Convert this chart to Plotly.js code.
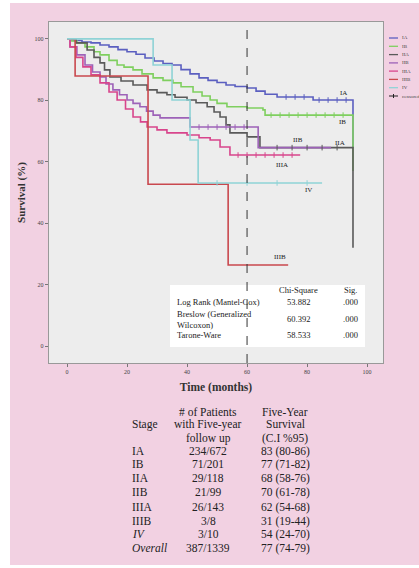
<!DOCTYPE html>
<html>
<head>
<meta charset="utf-8">
<script src="https://cdn.plot.ly/plotly-3.0.1.min.js"></script>
<style>
html,body{margin:0;padding:0;background:#ffffff;width:419px;height:568px;overflow:hidden;}
#chart{position:absolute;left:10px;top:3px;width:409px;height:562px;}
</style>
</head>
<body>
<div id="chart"></div>
<script>
// ---------- Data ----------
const stages = ["IA", "IB", "IIA", "IIB", "IIIA", "IIIB", "IV"];
const stageColors = ["#5b5fc0", "#7fcf5f", "#5a5a5a", "#9d62b8", "#d8458c", "#c9484e", "#8fd3d6"];

const timeIA = [0, 2, 5, 8, 11, 14, 17, 20, 23, 26, 29, 32, 35, 38, 41, 44, 47, 50, 53, 56, 60, 63, 66, 70, 82, 95.3, 95.3];
const survIA = [100, 99.5, 99, 98.7, 98, 97.4, 96.5, 95.8, 95, 93.8, 92.8, 92, 91.5, 90, 88.6, 87.3, 86.5, 85.8, 85, 84.5, 84, 83, 82, 81.1, 80.1, 80.1, 64.5];

const timeIB = [0, 1.5, 3.3, 6, 9, 11, 14, 16.7, 19, 22, 25, 28.7, 32, 35.3, 38, 42, 45, 47.7, 50, 53.3, 60, 65.3, 66, 95.3, 95.3];
const survIB = [100, 99.3, 98.7, 97.4, 95.8, 94.8, 93, 91.5, 90.8, 89.9, 88.6, 87.3, 86.5, 85.7, 84.4, 82.7, 81.4, 80.1, 79, 77.9, 77.5, 76.9, 75.2, 75.2, 57];

const timeIIA = [0, 3, 6.7, 9, 11, 12.5, 14.3, 18, 22, 26.7, 30, 33.3, 36, 40, 43, 46.7, 49, 51, 53, 54.3, 60, 64.3, 95.3, 95.3];
const survIIA = [100, 98.7, 96.4, 94, 92.2, 89.9, 87.6, 86.3, 85, 83.4, 82.5, 81.8, 81, 80.1, 79.2, 77.9, 76.2, 74.6, 72, 69.4, 68.1, 64.6, 64.6, 32];

const timeIIB = [0, 1, 3.3, 6, 8.5, 11, 13, 15.3, 17.5, 20, 22, 24.3, 26.5, 28.7, 31, 41, 63.7, 88];
const survIIB = [100, 97.4, 94.8, 91.5, 89.2, 87.6, 85.3, 83.4, 81.8, 80.1, 79, 77.9, 76.5, 75.2, 74.3, 71.3, 64.6, 64.6];

const timeIIIA = [0, 1, 3, 5.3, 8, 11, 14, 16.7, 19.5, 22, 24.5, 26.7, 30, 33.3, 40, 44, 47.7, 51, 54.3, 77.7];
const survIIIA = [100, 97.4, 94, 90.9, 88.3, 85.7, 82.7, 80.1, 77.2, 74.6, 73, 71.3, 70.4, 69.4, 68.7, 67.8, 67.1, 64.8, 62.2, 62.2];

const timeIIIB = [0, 2.7, 27, 53.7, 73.7];
const survIIIB = [100, 87.9, 52.7, 26.4, 26.4];

const timeIV = [0, 28.7, 35, 41, 43.7, 85];
const survIV = [100, 91.5, 80.1, 67.1, 53.1, 53.1];

// censored observations (time, survival)
const censIAx = [73, 76, 79, 84, 87, 90, 93];
const censIAy = [81.1, 81.1, 81.1, 80.1, 80.1, 80.1, 80.1];
const censIBx = [68, 71, 74, 77, 80, 83, 86, 89, 92];
const censIBy = [75.2, 75.2, 75.2, 75.2, 75.2, 75.2, 75.2, 75.2, 75.2];
const censIIAx = [70, 75, 80, 85, 90];
const censIIAy = [64.6, 64.6, 64.6, 64.6, 64.6];
const censIIBx = [44, 47, 50, 53, 56, 59];
const censIIBy = [71.3, 71.3, 71.3, 71.3, 71.3, 71.3];
const censIIIAx = [57, 60, 63, 66, 69, 72, 75];
const censIIIAy = [62.2, 62.2, 62.2, 62.2, 62.2, 62.2, 62.2];
const censIVx = [50, 60, 70, 80];
const censIVy = [53.1, 53.1, 53.1, 53.1];

const xTicks = [0, 20, 40, 60, 80, 100];
const yTicks = [0, 20, 40, 60, 80, 100];

const testNames = ["Log Rank (Mantel-Cox)", "Breslow (Generalized<br>Wilcoxon)", "Tarone-Ware"];
const chiSquare = ["53.882", "60.392", "58.533"];
const sigValues = [".000", ".000", ".000"];

const tableStages = ["IA", "IB", "IIA", "IIB", "IIIA", "IIIB", "IV", "Overall"];
const followUp = ["234/672", "71/201", "29/118", "21/99", "26/143", "3/8", "3/10", "387/1339"];
const fiveYear = ["83 (80-86)", "77 (71-82)", "68 (58-76)", "70 (61-78)", "62 (54-68)", "31 (19-44)", "54 (24-70)", "77 (74-79)"];

// ---------- Layout helpers (page pixel -> paper) ----------
const PL = 49, PR = 383, PT = 22, PB = 363;
const px = x => (x - PL) / (PR - PL);
const py = y => (PB - y) / (PB - PT);
const SERIF = '"Liberation Serif", "DejaVu Serif", serif';

function note(x, y, text, font, xanchor) {
  return {xref: 'paper', yref: 'paper', x: px(x), y: py(y), text: text, showarrow: false,
    xanchor: xanchor || 'center', yanchor: 'middle', align: xanchor === 'left' ? 'left' : 'center', font: font};
}

const series = [
  [timeIA, survIA, censIAx, censIAy],
  [timeIB, survIB, censIBx, censIBy],
  [timeIIA, survIIA, censIIAx, censIIAy],
  [timeIIB, survIIB, censIIBx, censIIBy],
  [timeIIIA, survIIIA, censIIIAx, censIIIAy],
  [timeIIIB, survIIIB, [], []],
  [timeIV, survIV, censIVx, censIVy]
];

const traces = [];
series.forEach((s, i) => {
  traces.push({
    x: s[0], y: s[1], type: 'scatter', mode: 'lines',
    line: {shape: 'hv', color: stageColors[i], width: 1.6},
    name: stages[i], showlegend: false, hoverinfo: 'skip'
  });
});
series.forEach((s, i) => {
  if (s[2].length) traces.push({
    x: s[2], y: s[3], type: 'scatter', mode: 'markers',
    marker: {symbol: 'line-ns', size: 4, color: stageColors[i], line: {color: stageColors[i], width: 1}},
    showlegend: false, hoverinfo: 'skip'
  });
});

const annotations = [];
const shapes = [];

// curve labels
const lf = {family: SERIF, size: 7, color: '#222'};
const curveLabels = [["IA", 343, 93], ["IB", 342, 122], ["IIB", 298, 140], ["IIA", 340, 143], ["IIIA", 282, 165], ["IV", 308, 190], ["IIIB", 280, 257]];
curveLabels.forEach(l => annotations.push(note(l[1], l[2], l[0], lf)));

// custom legend
const legY = [38, 46.3, 54.6, 62.9, 71.1, 79.4, 87.7, 96];
const legF = {family: SERIF, size: 5, color: '#444'};
stages.forEach((s, i) => {
  shapes.push({type: 'line', xref: 'paper', yref: 'paper', x0: px(389), x1: px(398), y0: py(legY[i]), y1: py(legY[i]),
    line: {color: stageColors[i], width: 1.3}});
  annotations.push(note(400, legY[i], s, legF, 'left'));
});
shapes.push({type: 'line', xref: 'paper', yref: 'paper', x0: px(389), x1: px(398), y0: py(legY[7]), y1: py(legY[7]),
  line: {color: '#222', width: 1}});
shapes.push({type: 'line', xref: 'paper', yref: 'paper', x0: px(393.5), x1: px(393.5), y0: py(legY[7] - 2), y1: py(legY[7] + 2),
  line: {color: '#222', width: 1}});
annotations.push(note(400, legY[7], 'censored', legF, 'left'));

// stats box
shapes.push({type: 'rect', xref: 'paper', yref: 'paper', x0: px(170), x1: px(365), y0: py(347), y1: py(285),
  fillcolor: '#ffffff', line: {width: 0}, layer: 'below'});
// five-year reference line
shapes.push({type: 'line', xref: 'x', yref: 'paper', x0: 60, x1: 60, y0: 0, y1: 1,
  line: {color: '#333', width: 1, dash: 'dash'}, layer: 'above'});

const sf = {family: SERIF, size: 8.5, color: '#222'};
annotations.push(note(298, 290, 'Chi-Square', sf));
annotations.push(note(350, 290, 'Sig.', sf));
const statRowY = [302, 319, 335];
testNames.forEach((t, i) => {
  annotations.push(note(175, statRowY[i], t, sf, 'left'));
  annotations.push(note(298, statRowY[i], chiSquare[i], sf));
  annotations.push(note(350, statRowY[i], sigValues[i], sf));
});

// bottom table
const tf = {family: SERIF, size: 11.5, color: '#222'};
const hdr = [[208, 412, '# of Patients'], [208, 424, 'with Five-year'], [208, 438, 'follow up'],
             [285, 412, 'Five-Year'], [285, 424, 'Survival'], [285, 438, '(C.I %95)']];
hdr.forEach(h => annotations.push(note(h[0], h[1], h[2], tf)));
annotations.push(note(130, 424, 'Stage', tf, 'left'));
const rowY = [451, 464, 478, 492, 507, 521, 534, 548];
tableStages.forEach((s, i) => {
  const it = (s === 'IV' || s === 'Overall');
  annotations.push(note(130, rowY[i], it ? '<i>' + s + '</i>' : s, tf, 'left'));
  annotations.push(note(208, rowY[i], followUp[i], tf));
  annotations.push(note(285, rowY[i], fiveYear[i], tf));
});

const layout = {
  width: 409, height: 562,
  margin: {l: PL - 10, r: 409 - (PR - 10), t: PT - 3, b: 562 - (PB - 3)},
  paper_bgcolor: '#f2d1e2',
  plot_bgcolor: '#ededed',
  showlegend: false,
  xaxis: {
    range: [-6, 105.3], tickvals: xTicks, ticktext: xTicks.map(String),
    ticks: 'outside', ticklen: 3, tickcolor: '#777', showgrid: false, zeroline: false,
    showline: true, mirror: true, linecolor: '#999', linewidth: 1.2,
    tickfont: {family: SERIF, size: 6, color: '#444'},
    title: {text: '<b>Time (months)</b>', font: {family: SERIF, size: 11.5, color: '#333'}, standoff: 8}
  },
  yaxis: {
    range: [-5.5, 105.5], tickvals: yTicks, ticktext: yTicks.map(String),
    ticks: 'outside', ticklen: 3, tickcolor: '#777', showgrid: false, zeroline: false,
    showline: true, mirror: true, linecolor: '#999', linewidth: 1.2,
    tickfont: {family: SERIF, size: 6, color: '#444'},
    title: {text: '<b>Survival (%)</b>', font: {family: SERIF, size: 11, color: '#333'}, standoff: 6}
  },
  annotations: annotations,
  shapes: shapes
};

Plotly.newPlot('chart', traces, layout, {displayModeBar: false, staticPlot: true});
</script>
</body>
</html>
